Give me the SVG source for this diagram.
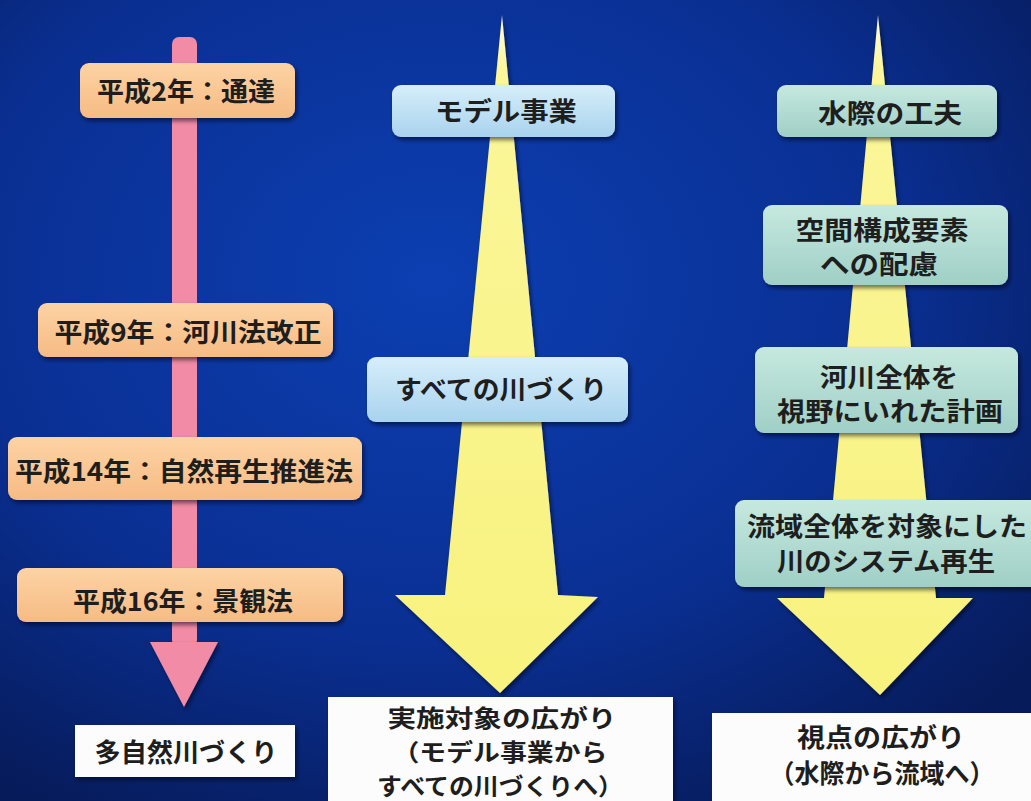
<svg xmlns="http://www.w3.org/2000/svg" width="1031" height="801" viewBox="0 0 1031 801">
<defs>
  <radialGradient id="bg" cx="0.42" cy="0.35" r="0.75">
    <stop offset="0" stop-color="#0c3fb2"/>
    <stop offset="0.6" stop-color="#0a2f92"/>
    <stop offset="1" stop-color="#061b5a"/>
  </radialGradient>
  <linearGradient id="gOrange" x1="0" y1="0" x2="0" y2="1">
    <stop offset="0" stop-color="#fdd3a4"/>
    <stop offset="1" stop-color="#f6bb84"/>
  </linearGradient>
  <linearGradient id="gBlue" x1="0" y1="0" x2="0" y2="1">
    <stop offset="0" stop-color="#d6eefa"/>
    <stop offset="1" stop-color="#a9d3ee"/>
  </linearGradient>
  <linearGradient id="gTeal" x1="0" y1="0" x2="0" y2="1">
    <stop offset="0" stop-color="#c6e9df"/>
    <stop offset="1" stop-color="#9fcfc6"/>
  </linearGradient>
  <linearGradient id="gYellow" x1="0" y1="0" x2="0" y2="1">
    <stop offset="0" stop-color="#fffde0"/>
    <stop offset="0.08" stop-color="#fbf69a"/>
    <stop offset="1" stop-color="#f8f27e"/>
  </linearGradient>
  <filter id="sh" x="-10%" y="-10%" width="130%" height="140%">
    <feDropShadow dx="2" dy="3" stdDeviation="2" flood-color="#000010" flood-opacity="0.55"/>
  </filter>
  <style>
    .t { font-family: "Noto Sans CJK JP", "Noto Sans CJK SC", sans-serif; font-weight: bold; font-size: 26px; fill: #1e1e1e; text-anchor: middle; }
    .s { font-size: 23.5px; }
    .or { fill: url(#gOrange); filter: url(#sh); }
    .bl { fill: url(#gBlue); filter: url(#sh); }
    .te { fill: url(#gTeal); filter: url(#sh); }
    .wh { fill: #fcfcfc; filter: url(#sh); }
    .ye { fill: url(#gYellow); filter: url(#sh); }
    .pk { fill: #f18ba6; }
  </style>
</defs>
<rect x="0" y="0" width="1031" height="801" fill="url(#bg)"/>

<g id="connectors">
  <rect class="pk" x="172" y="37" width="25" height="610" rx="7"/>
  <polygon class="pk" points="150,642 218,642 184,707" filter="url(#sh)"/>
  <polygon class="ye" points="502,15 558,595 598,597 500,693 395,595 445,595"/>
  <polygon class="ye" points="878,15 936,598 973,598 880,695 777,598 824,598"/>
</g>

<g id="n-h2">
  <rect class="or" x="80" y="63" width="215" height="55" rx="9"/>
  <text class="t" x="186" y="101" textLength="178" lengthAdjust="spacingAndGlyphs">平成2年：通達</text>
</g>
<g id="n-h9">
  <rect class="or" x="38" y="303" width="295" height="54" rx="9"/>
  <text class="t" x="188" y="342" textLength="267" lengthAdjust="spacingAndGlyphs">平成9年：河川法改正</text>
</g>
<g id="n-h14">
  <rect class="or" x="8" y="437" width="354" height="63" rx="9"/>
  <text class="t" x="184" y="481" textLength="338" lengthAdjust="spacingAndGlyphs">平成14年：自然再生推進法</text>
</g>
<g id="n-h16">
  <rect class="or" x="17" y="568" width="326" height="54" rx="9"/>
  <text class="t" x="183" y="611" textLength="220" lengthAdjust="spacingAndGlyphs">平成16年：景観法</text>
</g>
<g id="n-tashizen">
  <rect class="wh" x="75" y="725" width="220" height="52"/>
  <text class="t" x="186" y="762" textLength="183" lengthAdjust="spacingAndGlyphs">多自然川づくり</text>
</g>

<g id="n-model">
  <rect class="bl" x="392" y="85" width="223" height="52" rx="9"/>
  <text class="t" x="506" y="121" textLength="142" lengthAdjust="spacingAndGlyphs">モデル事業</text>
</g>
<g id="n-subete">
  <rect class="bl" x="367" y="357" width="261" height="65" rx="9"/>
  <text class="t" x="501" y="399" textLength="212" lengthAdjust="spacingAndGlyphs">すべての川づくり</text>
</g>
<g id="n-jisshi">
  <rect class="wh" x="328" y="697" width="345" height="115"/>
  <text class="t s" x="502" y="727" textLength="229" lengthAdjust="spacingAndGlyphs">実施対象の広がり</text>
  <text class="t s" x="500" y="761" textLength="215" lengthAdjust="spacingAndGlyphs">（モデル事業から</text>
  <text class="t s" x="500" y="795" textLength="246" lengthAdjust="spacingAndGlyphs">すべての川づくりへ）</text>
</g>

<g id="n-mizugiwa">
  <rect class="te" x="777" y="85" width="220" height="52" rx="9"/>
  <text class="t" x="890" y="123" textLength="144" lengthAdjust="spacingAndGlyphs">水際の工夫</text>
</g>
<g id="n-kukan">
  <rect class="te" x="763" y="205" width="245" height="80" rx="9"/>
  <text class="t" x="882" y="240" textLength="173" lengthAdjust="spacingAndGlyphs">空間構成要素</text>
  <text class="t" x="879" y="274" textLength="118" lengthAdjust="spacingAndGlyphs">への配慮</text>
</g>
<g id="n-kasen">
  <rect class="te" x="755" y="347" width="263" height="86" rx="9"/>
  <text class="t" x="889" y="387" textLength="138" lengthAdjust="spacingAndGlyphs">河川全体を</text>
  <text class="t" x="890" y="421" textLength="226" lengthAdjust="spacingAndGlyphs">視野にいれた計画</text>
</g>
<g id="n-ryuiki">
  <rect class="te" x="735" y="500" width="310" height="87" rx="9"/>
  <text class="t" x="887" y="536" textLength="280" lengthAdjust="spacingAndGlyphs">流域全体を対象にした</text>
  <text class="t" x="886" y="571" textLength="218" lengthAdjust="spacingAndGlyphs">川のシステム再生</text>
</g>
<g id="n-shiten">
  <rect class="wh" x="712" y="713" width="330" height="100"/>
  <text class="t" x="881" y="747" textLength="168" lengthAdjust="spacingAndGlyphs">視点の広がり</text>
  <text class="t" x="882" y="783" textLength="225" lengthAdjust="spacingAndGlyphs">（水際から流域へ）</text>
</g>
</svg>
